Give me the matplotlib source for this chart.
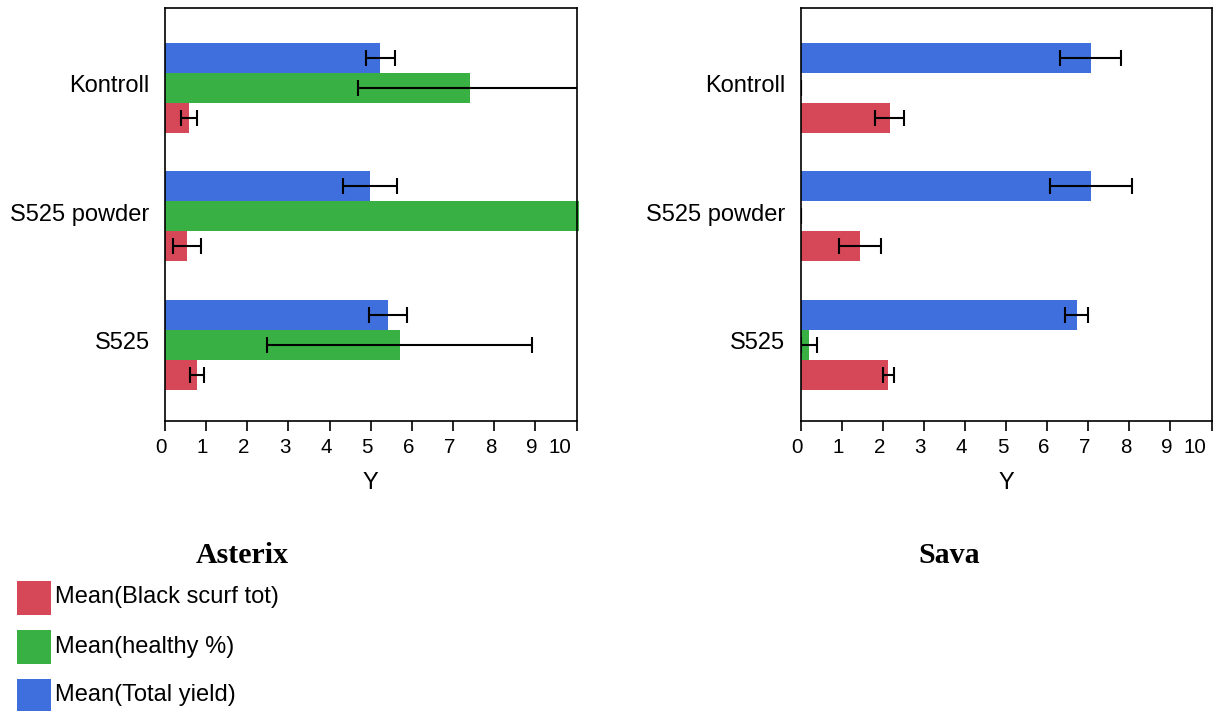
import numpy as np
import matplotlib
matplotlib.use("Agg")
import matplotlib.pyplot as plt
from matplotlib.patches import Rectangle
from matplotlib.transforms import ScaledTranslation

plt.rcParams['font.family'] = ['Liberation Sans', 'DejaVu Sans']

# data
categories = ['Kontroll', 'S525 powder', 'S525']
panels = ['Asterix', 'Sava']
series = ['Mean(Black scurf tot)', 'Mean(healthy %)', 'Mean(Total yield)']
colors = ['#D64858', '#39B043', '#3E6FDC']

# Asterix
ast_scurf = [0.58, 0.54, 0.78]
ast_scurf_err = [0.19, 0.345, 0.17]
ast_healthy = [7.40, 10.07, 5.70]
ast_healthy_err = [2.70, 0.0, 3.22]
ast_yield = [5.23, 4.99, 5.42]
ast_yield_err = [0.35, 0.655, 0.47]

# Sava
sava_scurf = [2.17, 1.44, 2.14]
sava_scurf_err = [0.36, 0.515, 0.125]
sava_healthy = [0.0, 0.0, 0.20]
sava_healthy_err = [0.0, 0.0, 0.19]
sava_yield = [7.06, 7.06, 6.72]
sava_yield_err = [0.745, 0.995, 0.28]

ticks = list(range(0, 11))

data = {
    'Asterix': [(ast_scurf, ast_scurf_err), (ast_healthy, ast_healthy_err), (ast_yield, ast_yield_err)],
    'Sava': [(sava_scurf, sava_scurf_err), (sava_healthy, sava_healthy_err), (sava_yield, sava_yield_err)],
}

W, H = 1213, 711
fig = plt.figure(figsize=(W / 100, H / 100), dpi=100)

def px_rect(x0, x1, y0, y1):
    return [x0 / W, 1 - y1 / H, (x1 - x0) / W, (y1 - y0) / H]

def shift(dx, dy):
    return ScaledTranslation(dx / 100, dy / 100, fig.dpi_scale_trans)

axes_px = {'Asterix': (165, 576.5, 8, 420.5), 'Sava': (800.5, 1211.5, 8, 420.5)}
title_px = {'Asterix': (242, 563), 'Sava': (949, 563)}

bar_h = 0.233
offsets = [bar_h, 0.0, -bar_h]   # red below, green middle, blue on top (y inverted)
pos = np.arange(len(categories))

for name in panels:
    ax = fig.add_axes(px_rect(*axes_px[name]))
    for (vals, errs), off, col in zip(data[name], offsets, colors):
        y = pos + off
        ax.barh(y, vals, height=bar_h, color=col, linewidth=0, clip_on=False)
        ax.errorbar(vals, y, xerr=errs, fmt='none', ecolor='black',
                    elinewidth=1.5, capsize=5.5, capthick=1.5)
    ax.set_xlim(0, 10)
    ax.set_ylim(2.59, -0.62)
    ax.set_xticks(ticks)
    ax.set_xticklabels([str(t) for t in ticks], fontsize=14.8)
    ax.set_yticks(pos)
    ax.set_yticklabels(categories, fontsize=17)
    ax.tick_params(axis='y', length=0, pad=11)
    ax.tick_params(axis='x', length=7, width=1.2, pad=5.5, direction='out')
    ax.set_xlabel('Y', fontsize=17, labelpad=11)
    # labels sit a little left of their ticks, the last one kept inside
    xlabs = ax.get_xticklabels()
    for lab in xlabs[:-1]:
        lab.set_transform(lab.get_transform() + shift(-3.5, 0))
    xlabs[-1].set_horizontalalignment('right')
    xlabs[-1].set_transform(xlabs[-1].get_transform() + shift(-5, 0))
    for lab in ax.get_yticklabels():
        lab.set_transform(lab.get_transform() + shift(0, 4))
    for sp in ax.spines.values():
        sp.set_linewidth(1.2)
        sp.set_color('black')
    tx, ty = title_px[name]
    fig.text(tx / W, 1 - ty / H, name, ha='center', va='baseline',
             family='Liberation Serif', fontweight='bold', fontsize=21.5)

# legend
leg_top = [581, 630, 679]
for lab, col, top in zip(series, colors, leg_top):
    fig.patches.append(Rectangle((17 / W, 1 - (top + 34) / H), 34 / W, 34 / H,
                                 transform=fig.transFigure, color=col, linewidth=0))
    fig.text(55 / W, 1 - (top + 22.5) / H, lab, ha='left', va='baseline', fontsize=17)

fig.savefig('out.png', dpi=100)
